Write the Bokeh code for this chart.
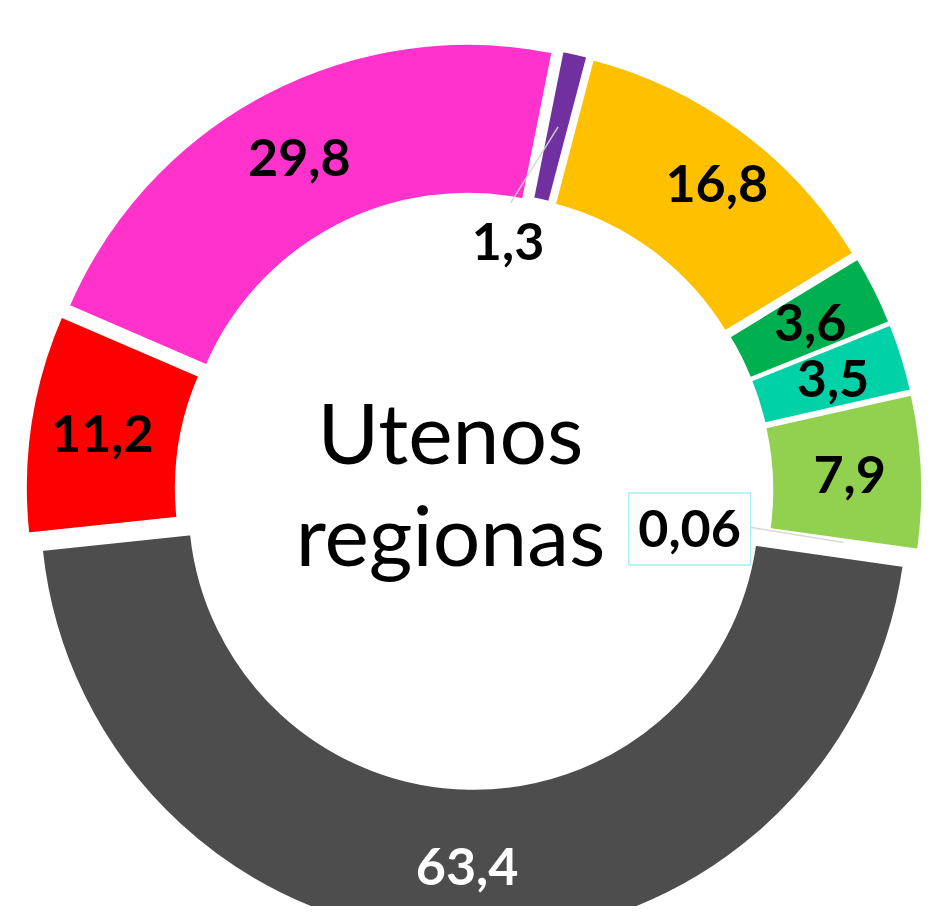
import math
from bokeh.plotting import figure
from bokeh.models import ColumnDataSource, Range1d
from bokeh.core.properties import value
from bokeh.embed import file_html
from bokeh.resources import INLINE

# ---------------- data ----------------
values = [0.06, 7.9, 3.5, 3.6, 16.8, 1.3, 29.8, 11.2, 63.4]
labels = ["0,06", "7,9", "3,5", "3,6", "16,8", "1,3", "29,8", "11,2", "63,4"]
colors = ["#C8F4F8", "#92D050", "#00D1A7", "#00B050", "#FFC000",
          "#7030A0", "#FF33CC", "#FF0000", "#4D4D4D"]
label_colors = ["#000000"] * 8 + ["#FFFFFF"]
title_lines = ["Utenos", "regionas"]

# ---------------- layout / style ----------------
START_DEG = -8.1
R_OUT = 434.5
R_IN = 284.0
EXPLODE = 14.0
LABEL_R = 362.0
LABEL_PX = 52
TITLE_PX = 84
FONT = "Lato"

# callouts for the small slices: offsets (data px) from the slice anchor
callouts = {
    "1,3": dict(label=(-50.0, -115.0), line_end=(-47.5, -76.0), box=False),
    "0,06": dict(label=(-154.0, 13.7), line_end=(-92.8, 15.2), box=True),
}
label_nudge = {"16,8": (18.0, 6.0)}

total = sum(values)
starts, ends, mids = [], [], []
acc = 0.0
for v in values:
    s = START_DEG + 360.0 * acc / total
    e = START_DEG + 360.0 * (acc + v) / total
    starts.append(math.radians(s))
    ends.append(math.radians(e))
    mids.append(math.radians((s + e) / 2))
    acc += v

cxs = [EXPLODE * math.cos(m) for m in mids]
cys = [EXPLODE * math.sin(m) for m in mids]

W, H = 931, 906
X0, Y1 = -473.5, 490.0
p = figure(width=W, height=H,
           x_range=Range1d(X0, X0 + W), y_range=Range1d(Y1 - H, Y1),
           output_backend="svg", toolbar_location=None,
           min_border=0, x_axis_location=None, y_axis_location=None,
           outline_line_color=None, background_fill_color="white",
           border_fill_color="white")
p.xgrid.grid_line_color = None
p.ygrid.grid_line_color = None

wedge_src = ColumnDataSource(dict(x=cxs, y=cys, start=starts, end=ends, color=colors))
p.annular_wedge(x="x", y="y", inner_radius=R_IN, outer_radius=R_OUT,
                start_angle="start", end_angle="end", fill_color="color",
                line_color="white", line_width=2.5, source=wedge_src)

mid_ring = (R_IN + R_OUT) / 2
lx, ly, lt, lc = [], [], [], []
for i, lab in enumerate(labels):
    ax = cxs[i] + mid_ring * math.cos(mids[i])
    ay = cys[i] + mid_ring * math.sin(mids[i])
    if lab in callouts:
        c = callouts[lab]
        tx, ty = ax + c["label"][0], ay + c["label"][1]
        ex, ey = ax + c["line_end"][0], ay + c["line_end"][1]
        p.line([ax, ex], [ay, ey], line_color="#D4D4D4", line_width=1.6, line_alpha=0.9)
        if c["box"]:
            p.rect(x=tx, y=ty, width=122, height=72, fill_color="white",
                   line_color="#A6F0F8", line_width=1.5)
    else:
        tx = cxs[i] + LABEL_R * math.cos(mids[i])
        ty = cys[i] + LABEL_R * math.sin(mids[i])
        if lab in label_nudge:
            tx += label_nudge[lab][0]
            ty += label_nudge[lab][1]
    lx.append(tx)
    ly.append(ty)
    lt.append(lab)
    lc.append(label_colors[i])

p.text(x=lx, y=ly, text=lt, text_color=lc, text_font=value(FONT),
       text_font_style="bold", text_font_size=f"{LABEL_PX}px",
       text_align="center", text_baseline="middle")

TITLE_X = -23.5
TITLE_Y0 = 59.5
TITLE_STEP = 102.0
p.text(x=[TITLE_X] * len(title_lines),
       y=[TITLE_Y0 - i * TITLE_STEP for i in range(len(title_lines))],
       text=title_lines, text_color="#000000", text_font=value(FONT),
       text_font_size=f"{TITLE_PX}px", text_align="center",
       text_baseline="middle")

open("out.html", "w").write(file_html(p, INLINE))
